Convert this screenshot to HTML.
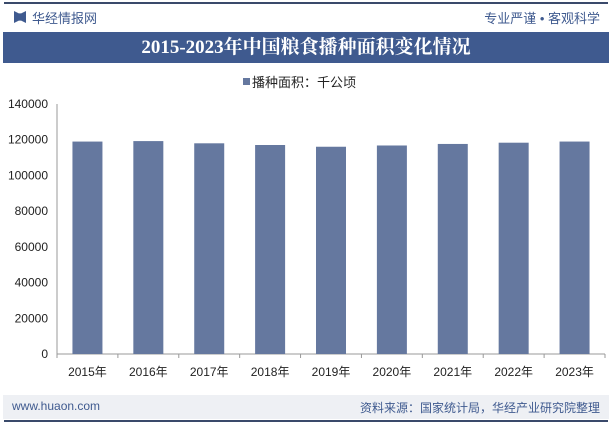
<!DOCTYPE html>
<html><head><meta charset="utf-8"><style>
body{margin:0;width:612px;height:424px;background:#fff;font-family:"Liberation Sans","Noto Sans CJK SC",sans-serif;overflow:hidden;position:relative}
.abs{position:absolute}
</style></head><body>
<div class="abs" style="left:4px;top:2px;width:604px;height:2px;background:#3a4a6b"></div>
<div class="abs" style="left:14px;top:11px;width:12px;height:12px;background:#3f5a8f;clip-path:polygon(0 0,40% 20%,60% 20%,100% 0,100% 100%,60% 80%,40% 80%,0 100%)"></div>
<div class="abs" style="left:32px;top:8px;font-size:13px;color:#3f5a8f">华经情报网</div>
<div class="abs" style="right:12px;top:8px;font-size:13px;color:#3f5a8f">专业严谨 • 客观科学</div>
<div class="abs" style="left:3px;top:32px;width:606px;height:31px;background:#3f5a8f;color:#fff;font-size:19px;font-weight:bold;text-align:center;line-height:31px;font-family:'Liberation Serif','Noto Serif CJK SC',serif">2015-2023年中国粮食播种面积变化情况</div>
<div class="abs" style="left:243px;top:72px;font-size:13px;color:#222"><span style="display:inline-block;width:7px;height:7px;background:#65789f;margin-right:2px;vertical-align:2px"></span>播种面积：千公顷</div>
<svg class="abs" style="left:0;top:0" width="612" height="424" id="chart"></svg>
<div class="abs" style="left:3px;top:395px;width:606px;height:24px;background:#eef0f4"></div>
<div class="abs" style="left:12px;top:399px;font-size:12px;color:#3f5a8f">www.huaon.com</div>
<div class="abs" style="right:12px;top:399px;font-size:12px;color:#3f5a8f">资料来源：国家统计局，华经产业研究院整理</div>
<div class="abs" style="left:4px;top:420px;width:604px;height:2px;background:#3a4a6b"></div>
<script>
const categories=["2015年","2016年","2017年","2018年","2019年","2020年","2021年","2022年","2023年"];
const values=[118963,119230,117989,117038,116064,116768,117631,118332,118969];
const yTicks=[0,20000,40000,60000,80000,100000,120000,140000];
const svg=document.getElementById('chart');
const NS='http://www.w3.org/2000/svg';
const x0=57,x1=605,y0=354,y1=104,yMax=140000;
const band=(x1-x0)/categories.length;
const y=v=>y0-(v/yMax)*(y0-y1);
function mk(t,a){const e=document.createElementNS(NS,t);for(const k in a)e.setAttribute(k,a[k]);svg.appendChild(e);return e;}
yTicks.forEach(t=>{
 const e=mk('text',{x:48,y:y(t)+4,'text-anchor':'end','font-size':12,fill:'#222'});
 e.textContent=t;
 
 
});
const ax=mk('line',{x1:x0,x2:x1,y1:y0,y2:y0,stroke:'#999','stroke-width':1});


const ay=mk('line',{x1:x0,x2:x0,y1:y1,y2:y0,stroke:'#999','stroke-width':1});


for(let i=0;i<=categories.length;i++){
 const tk=mk('line',{x1:x0+i*band,x2:x0+i*band,y1:y0,y2:y0+4,stroke:'#999'});
 
 
}
categories.forEach((c,i)=>{
 const cx=x0+band*(i+0.5);
 const r=mk('rect',{x:cx-15,y:y(values[i]),width:30,height:y0-y(values[i]),fill:'#65789f'});
 
 
 const t=mk('text',{x:cx,y:y0+22,'text-anchor':'middle','font-size':12,fill:'#222'});
 t.textContent=c;
 
 
});
</script>
</body></html>
